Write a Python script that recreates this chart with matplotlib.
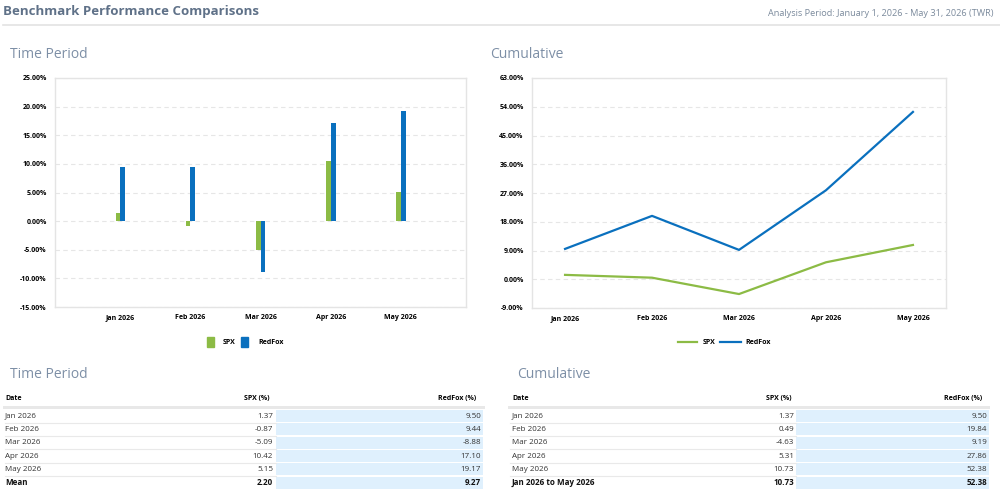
import numpy as np
import matplotlib
matplotlib.use("Agg")
import matplotlib.pyplot as plt
from matplotlib.patches import Rectangle

plt.rcParams['font.family'] = ['Open Sans', 'DejaVu Sans']

months = ["Jan 2026", "Feb 2026", "Mar 2026", "Apr 2026", "May 2026"]
spx_period = [1.37, -0.87, -5.09, 10.42, 5.15]
redfox_period = [9.50, 9.44, -8.88, 17.10, 19.17]
spx_mean = 2.20
redfox_mean = 9.27
spx_cum = [1.37, 0.49, -4.63, 5.31, 10.73]
redfox_cum = [9.50, 19.84, 9.19, 27.86, 52.38]
cum_label = "Jan 2026 to May 2026"
period_ticks = [-15, -10, -5, 0, 5, 10, 15, 20, 25]
cum_ticks = [-9, 0, 9, 18, 27, 36, 45, 54, 63]

GREEN = "#8cbb45"
BLUE = "#0a70be"
TITLE_C = "#5f7188"
SUB_C = "#7d8fa6"
W, H = 1000, 492

fig = plt.figure(figsize=(10, 4.92), dpi=100)
ov = fig.add_axes([0, 0, 1, 1])
ov.set_xlim(0, W)
ov.set_ylim(H, 0)
ov.axis("off")

ov.text(3, 12, "Benchmark Performance Comparisons", fontsize=9.5, fontweight="bold",
        color=TITLE_C, va="center", ha="left")
ov.text(993, 14, "Analysis Period: January 1, 2026 - May 31, 2026 (TWR)", fontsize=6.6,
        color="#7b8a9c", va="center", ha="right")
ov.plot([3, 1000], [25, 25], color="#e3e3e3", lw=1.2)
ov.text(10, 54, "Time Period", fontsize=10, color=SUB_C, va="center", ha="left")
ov.text(490, 54, "Cumulative", fontsize=10, color=SUB_C, va="center", ha="left")


def px_axes(x0, y0, x1, y1):
    return fig.add_axes([x0 / W, 1 - y1 / H, (x1 - x0) / W, (y1 - y0) / H])


def style_axes(ax, ticks):
    ax.set_yticks(ticks)
    ax.set_ylim(ticks[0], ticks[-1])
    ax.set_yticklabels([f"{t:.2f}%" for t in ticks], fontsize=5, fontweight="bold")
    ax.tick_params(length=0, pad=6)
    ax.tick_params(axis="x", pad=5)
    for lab in ax.get_xticklabels():
        lab.set_fontsize(5)
        lab.set_fontweight("bold")
    for s in ax.spines.values():
        s.set_color("#e4e4e4")
        s.set_linewidth(1.0)
    ax.grid(axis="y", color="#e6e6e6", linestyle=(0, (4, 3)), lw=0.8)
    ax.set_axisbelow(True)


# Left: bar chart
ax1 = px_axes(55, 78, 466, 307)
x = np.arange(len(months))
ax1.bar(x - 0.064, spx_period, width=0.064, align="edge", color=GREEN, label="SPX")
ax1.bar(x, redfox_period, width=0.071, align="edge", color=BLUE, label="RedFox")
ax1.set_xlim(-0.93, 4.93)
ax1.set_xticks(x)
ax1.set_xticklabels(months)
style_axes(ax1, period_ticks)

# Right: line chart
ax2 = px_axes(532, 78, 946, 308)
ax2.plot(x, spx_cum, color=GREEN, lw=1.6, label="SPX")
ax2.plot(x, redfox_cum, color=BLUE, lw=1.6, label="RedFox")
ax2.set_xlim(-0.38, 4.38)
ax2.set_xticks(x)
ax2.set_xticklabels(months)
style_axes(ax2, cum_ticks)

# Legends (drawn on overlay in pixel positions)
ov.add_patch(Rectangle((207, 337), 7, 10, color=GREEN))
ov.text(223, 342, "SPX", fontsize=5, fontweight="bold", va="center")
ov.add_patch(Rectangle((241, 337), 7, 10, color=BLUE))
ov.text(258, 342, "RedFox", fontsize=5, fontweight="bold", va="center")

ov.plot([678, 697], [342, 342], color=GREEN, lw=1.6)
ov.text(703, 342, "SPX", fontsize=5, fontweight="bold", va="center")
ov.plot([720, 741], [342, 342], color=BLUE, lw=1.6)
ov.text(745, 342, "RedFox", fontsize=5, fontweight="bold", va="center")


def draw_table(title, tx, x0, x1, date_x, spx_r, blue0, blue1, rf_r, spx_vals, rf_vals,
               last_label, last_spx, last_rf):
    ov.text(tx, 375, title, fontsize=10, color=SUB_C, va="center", ha="left")
    ov.text(date_x, 398.5, "Date", fontsize=5, fontweight="bold", va="center")
    ov.text(spx_r - 3, 398.5, "SPX (%)", fontsize=5, fontweight="bold", va="center", ha="right")
    ov.text(rf_r - 5, 398.5, "RedFox (%)", fontsize=5, fontweight="bold", va="center", ha="right")
    ov.add_patch(Rectangle((x0, 406), x1 - x0, 3, color="#e8e8e8", lw=0))
    top = 409.5
    rh = 13.3
    n = len(months) + 1
    for i in range(n):
        y0 = top + i * rh
        yc = y0 + rh / 2
        ov.add_patch(Rectangle((blue0, y0 + 0.5), blue1 - blue0, rh - 1.2,
                               color="#dff0fd", lw=0))
        if i < n - 1:
            ov.plot([x0 + 2, blue0], [y0 + rh, y0 + rh], color="#e9e9e9", lw=0.8)
            label, sv, rv, wt = months[i], spx_vals[i], rf_vals[i], "normal"
        else:
            label, sv, rv, wt = last_label, last_spx, last_rf, "bold"
        c = "#111111" if wt == "bold" else "#333333"
        ov.text(date_x, yc, label, fontsize=5.8, fontweight=wt, color=c, va="center")
        ov.text(spx_r, yc, f"{sv:.2f}", fontsize=5.8, fontweight=wt, color=c,
                va="center", ha="right")
        ov.text(rf_r, yc, f"{rv:.2f}", fontsize=5.8, fontweight=wt, color=c,
                va="center", ha="right")


draw_table("Time Period", 10, 3, 485, 5, 273, 276, 483, 481,
           spx_period, redfox_period, "Mean", spx_mean, redfox_mean)
draw_table("Cumulative", 517, 508, 990, 512, 794, 796, 989, 987,
           spx_cum, redfox_cum, cum_label, spx_cum[-1], redfox_cum[-1])

fig.savefig("out.png", dpi=100)
